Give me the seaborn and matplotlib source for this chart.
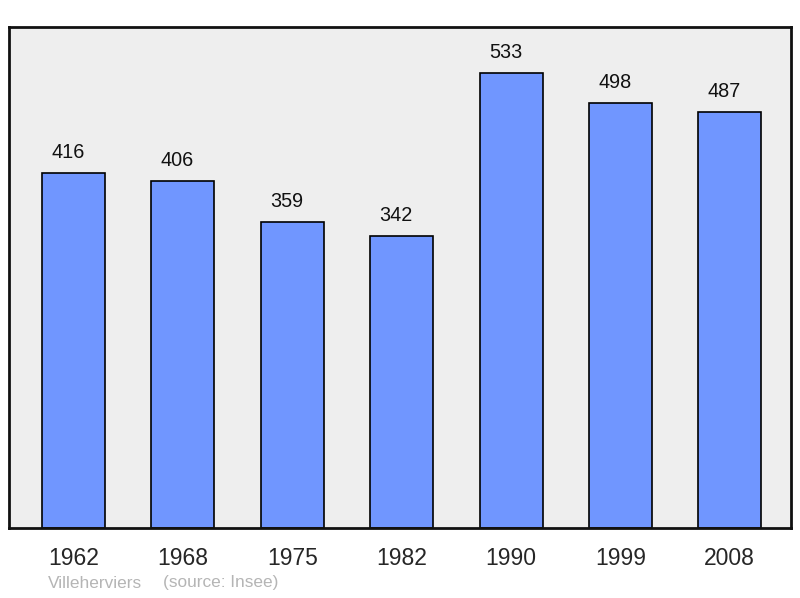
import matplotlib
matplotlib.use("Agg")
from matplotlib import pyplot as plt
import seaborn as sns
import pandas as pd

years = ['1962', '1968', '1975', '1982', '1990', '1999', '2008']
population = [416, 406, 359, 342, 533, 498, 487]

df = pd.DataFrame({'year': years, 'population': population})

sns.set_style('white')
plt.rcParams['font.family'] = ['Liberation Sans', 'DejaVu Sans']

fig = plt.figure(figsize=(8, 5.98), dpi=100)
ax = fig.add_axes([9 / 800, 1 - 528 / 598, 782 / 800, 501 / 598])
ax.set_facecolor('#eeeeee')

sns.barplot(data=df, x='year', y='population', color='#7096ff', saturation=1,
            width=0.576, edgecolor='black', linewidth=1.2, ax=ax)

# value labels sit a touch left of the bar centre in the original
for i, v in enumerate(population):
    ax.text(i - 0.05, v + 24, str(v), ha='center', va='center', fontsize=14.3, color='#111111')

ax.set_xlim(-0.59, 6.56)
ax.set_ylim(0, 587)
ax.set_yticks([])
ax.set_xlabel('')
ax.set_ylabel('')
ax.tick_params(axis='x', length=0, labelsize=16.5, pad=14)
for s in ax.spines.values():
    s.set_linewidth(2)
    s.set_color('#111111')

fig.text(48 / 800, 1 - 583 / 598, 'Villeherviers', fontsize=12.4, color='#b5b5b5', va='center')
fig.text(163 / 800, 1 - 583 / 598, '(source: Insee)', fontsize=12.4, color='#b5b5b5', va='center')

fig.savefig('out.png', dpi=100)
